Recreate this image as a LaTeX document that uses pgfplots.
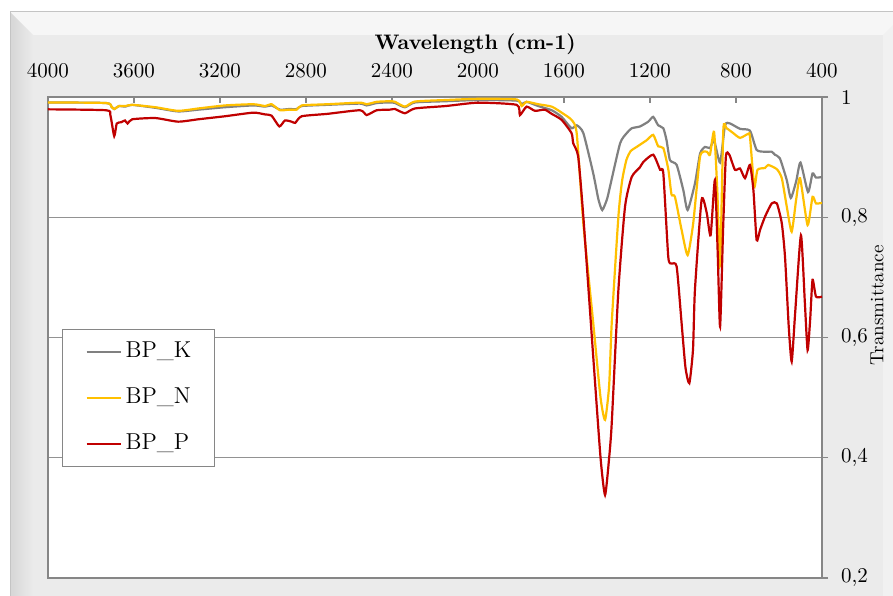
\documentclass[border=0pt]{standalone}
\usepackage{pgfplots}
\pgfplotsset{compat=1.18}
\definecolor{cK}{HTML}{808080}
\definecolor{cN}{HTML}{FFC000}
\definecolor{cP}{HTML}{C00000}
\definecolor{frameface}{HTML}{EBEBEB}
\definecolor{frametop}{HTML}{F6F6F6}
\definecolor{frameedge}{HTML}{C4C4C4}
\definecolor{axgray}{HTML}{868686}
\begin{document}
\begin{tikzpicture}
\begin{scope}[x=0.5pt,y=0.5pt]
\path[use as bounding box] (0,0) rectangle (893,595);
\fill[white] (0,0) rectangle (893,595);
\fill[frametop] (10,-5) rectangle (900,583);
\shade[left color=frameedge!70, right color=frameface] (10,-5) -- (10,583) -- (33,560) -- (33,-5) -- cycle;
\fill[frameface] (33,-5) rectangle (883,560);
\fill[frametop!60!frameface] (883,-5) -- (883,560) -- (900,577) -- (900,-5) -- cycle;
\draw[frameedge, line width=0.5pt] (10,-5) -- (10,583) -- (900,583);
\end{scope}
\begin{axis}[
  at={(24pt,8.5pt)}, anchor=south west,
  scale only axis, width=387pt, height=240.5pt,
  xmin=400, xmax=4000, x dir=reverse,
  ymin=0.2, ymax=1,
  xtick={400,800,1200,1600,2000,2400,2800,3200,3600,4000},
  xticklabels={400,800,1200,1600,2000,2400,2800,3200,3600,4000},
  ytick={0.2,0.4,0.6,0.8,1},
  yticklabels={{0,2},{0,4},{0,6},{0,8},{1}},
  xtick pos=right, xticklabel pos=right,
  ytick pos=right, yticklabel pos=right,
  tick align=outside, major tick length=3pt,
  xtick style={yshift=-3pt, draw=axgray, line width=0.6pt},
  ytick style={draw=axgray, line width=0.6pt},
  ymajorgrids, major grid style={draw=axgray!90, line width=0.5pt},
  axis line style={draw=axgray, line width=0.7pt},
  axis background/.style={fill=white},
  tick label style={font=\fontsize{10.5pt}{12pt}\selectfont},
  x tick label style={anchor=base, yshift=7pt},
  y tick label style={anchor=west, xshift=3pt},
  xlabel={\textbf{Wavelength (cm-1)}},
  xlabel style={at={(axis description cs:0.552,1)}, anchor=base, yshift=24pt, font=\fontsize{10.5pt}{12pt}\selectfont},
  ylabel={Transmittance},
  ylabel style={at={(axis description cs:1.0711,0.567)}, anchor=center, font=\fontsize{9.5pt}{11pt}\selectfont},
  legend cell align=left,
  legend image code/.code={\draw[#1] (0pt,0pt) -- (17pt,0pt);},
  legend style={at={(axis description cs:0.018,0.518)}, anchor=north west,
    draw=axgray, line width=0.6pt, fill=white,
    font=\fontsize{11.5pt}{14pt}\selectfont,
    inner xsep=11.5pt, inner ysep=5.5pt, row sep=11.5pt, column sep=2pt,
    nodes={inner sep=0pt, text height=8.5pt, text depth=3pt}},
  every axis plot/.append style={line width=1.1pt, smooth, tension=0.35},
]
\addplot[cK] table {
x y
4000 0.991
3730 0.990
3705 0.984
3692 0.980
3670 0.985
3640 0.984
3610 0.987
3500 0.982
3395 0.976
3300 0.979
3177 0.983
3045 0.986
2990 0.984
2960 0.986
2921 0.979
2880 0.980
2843 0.980
2820 0.985
2700 0.987
2549 0.989
2518 0.986
2471 0.990
2409 0.991
2386 0.990
2340 0.983
2293 0.991
2150 0.993
1999 0.995
1820 0.994
1797 0.988
1774 0.992
1720 0.985
1657 0.978
1611 0.967
1565 0.948
1541 0.953
1510 0.940
1464 0.873
1440 0.830
1422 0.812
1400 0.830
1386 0.851
1339 0.923
1308 0.940
1285 0.948
1247 0.951
1208 0.959
1185 0.967
1162 0.953
1138 0.948
1123 0.928
1107 0.895
1076 0.887
1045 0.845
1025 0.812
991 0.856
967 0.906
944 0.917
921 0.915
902 0.928
874 0.891
851 0.953
828 0.956
781 0.947
735 0.944
704 0.912
665 0.909
634 0.909
619 0.904
596 0.898
564 0.862
545 0.832
520 0.860
500 0.891
465 0.842
444 0.873
428 0.866
400 0.867
};
\addlegendentry{BP\_K}
\addplot[cN] table {
x y
4000 0.991
3730 0.990
3705 0.984
3692 0.980
3670 0.985
3640 0.985
3608 0.987
3500 0.983
3395 0.977
3300 0.981
3177 0.986
3045 0.988
2990 0.985
2960 0.988
2921 0.978
2880 0.979
2843 0.979
2820 0.986
2700 0.988
2549 0.9906
2518 0.988
2471 0.992
2409 0.993
2386 0.992
2340 0.984
2293 0.9925
2150 0.995
1999 0.997
1820 0.996
1797 0.985
1774 0.992
1720 0.988
1657 0.984
1611 0.974
1565 0.962
1541 0.940
1510 0.790
1464 0.624
1430 0.500
1409 0.463
1390 0.520
1378 0.624
1347 0.801
1330 0.860
1310 0.895
1290 0.910
1262 0.917
1216 0.928
1185 0.937
1162 0.918
1138 0.915
1115 0.880
1100 0.838
1084 0.834
1053 0.779
1025 0.737
999 0.790
967 0.901
936 0.909
921 0.904
902 0.942
887 0.845
874 0.720
859 0.945
844 0.948
813 0.940
781 0.932
742 0.939
735 0.934
715 0.851
700 0.879
665 0.882
650 0.887
610 0.880
587 0.865
564 0.818
541 0.776
520 0.830
502 0.865
467 0.787
444 0.834
428 0.823
400 0.824
};
\addlegendentry{BP\_N}
\addplot[cP] table {
x y
4000 0.9795
3730 0.978
3710 0.970
3692 0.935
3680 0.956
3660 0.958
3642 0.961
3630 0.956
3608 0.963
3500 0.965
3395 0.959
3300 0.963
3177 0.968
3045 0.974
2990 0.971
2960 0.969
2924 0.951
2898 0.961
2867 0.959
2850 0.957
2820 0.968
2700 0.972
2549 0.978
2518 0.970
2471 0.978
2409 0.979
2386 0.980
2340 0.973
2293 0.981
2150 0.985
2000 0.9906
1820 0.987
1805 0.970
1774 0.984
1735 0.977
1690 0.979
1657 0.972
1611 0.962
1565 0.940
1557 0.923
1534 0.901
1510 0.801
1464 0.568
1430 0.400
1409 0.338
1390 0.400
1378 0.457
1347 0.679
1316 0.818
1285 0.867
1247 0.883
1231 0.892
1185 0.904
1153 0.879
1138 0.873
1115 0.734
1100 0.723
1076 0.718
1053 0.624
1035 0.550
1017 0.524
1000 0.580
991 0.679
960 0.829
936 0.807
918 0.770
898 0.862
885 0.740
874 0.618
860 0.780
847 0.901
831 0.904
805 0.879
781 0.881
758 0.865
735 0.887
719 0.845
704 0.762
688 0.779
665 0.801
634 0.823
610 0.823
587 0.790
572 0.734
555 0.620
541 0.560
525 0.640
498 0.770
480 0.660
467 0.579
455 0.630
444 0.696
428 0.668
400 0.668
};
\addlegendentry{BP\_P}
\end{axis}
\end{tikzpicture}
\end{document}
